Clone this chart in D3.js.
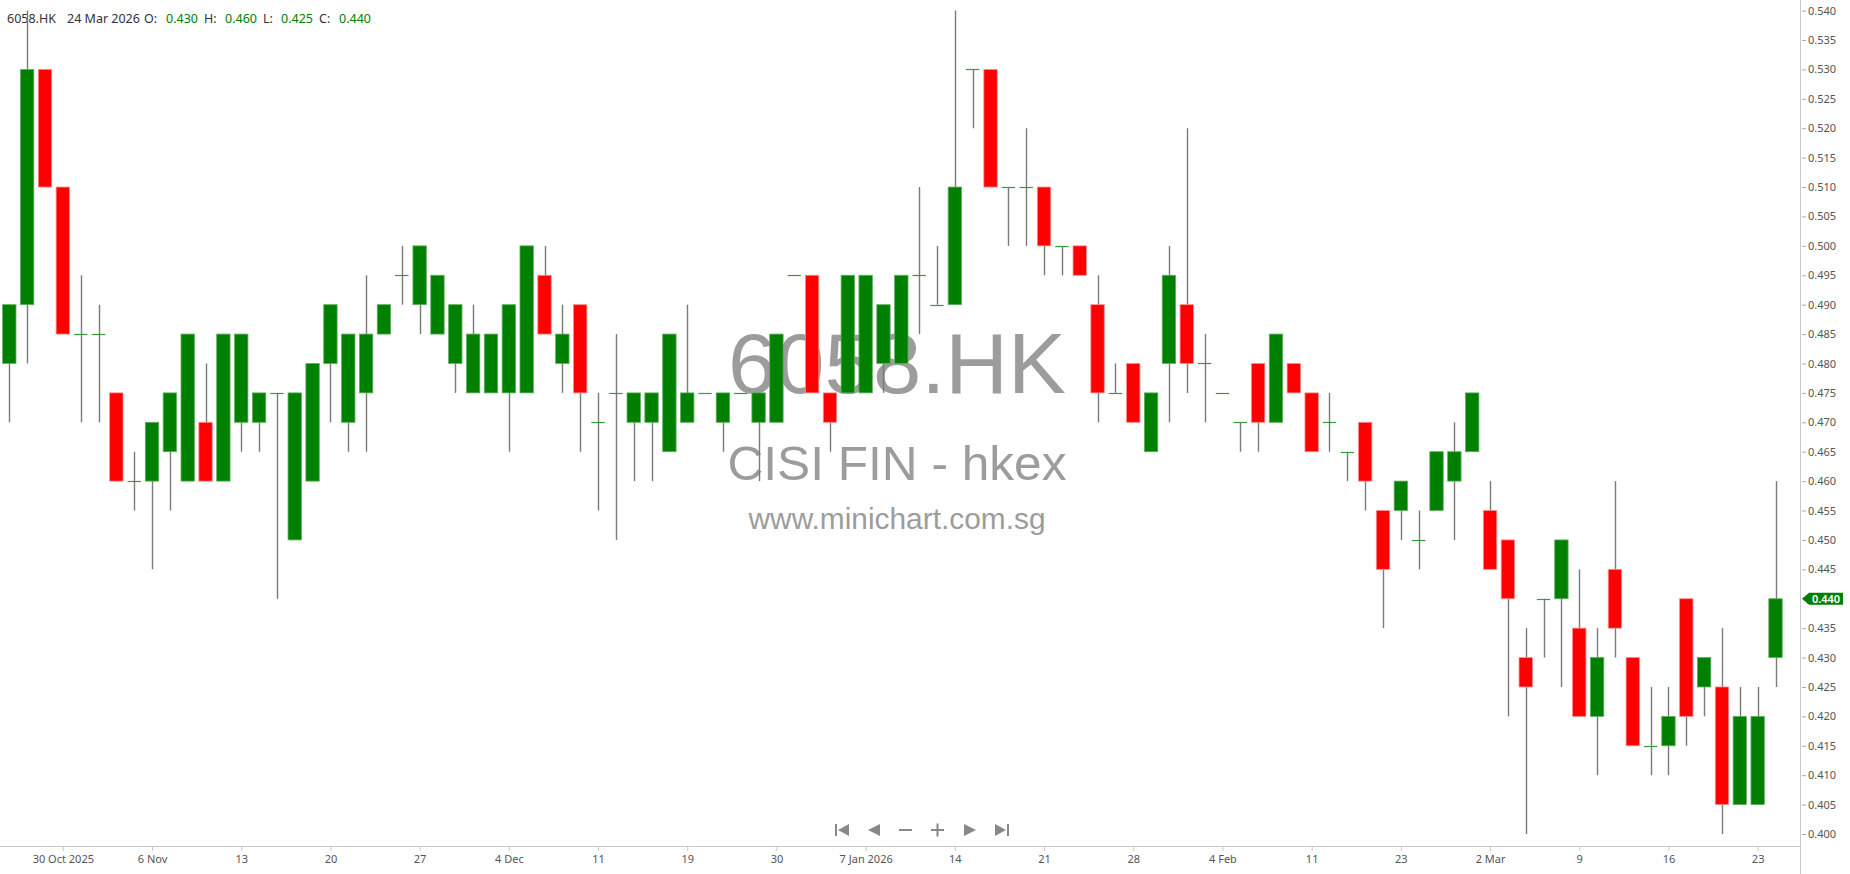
<!DOCTYPE html>
<html><head><meta charset="utf-8">
<script src="https://cdn.jsdelivr.net/npm/d3@7"></script>
<style>html,body{margin:0;padding:0;background:#fff;overflow:hidden}</style>
</head><body>
<svg id="chart" width="1850" height="874"></svg>
<script>
// ---------- DATA ----------
const symbol = "6058.HK";
const dates = [
"2025-10-24","2025-10-27","2025-10-28","2025-10-30","2025-10-31","2025-11-03","2025-11-04","2025-11-05","2025-11-06","2025-11-07",
"2025-11-10","2025-11-11","2025-11-12","2025-11-13","2025-11-14","2025-11-17","2025-11-18","2025-11-19","2025-11-20","2025-11-21",
"2025-11-24","2025-11-25","2025-11-26","2025-11-27","2025-11-28","2025-12-01","2025-12-02","2025-12-03","2025-12-04","2025-12-05",
"2025-12-08","2025-12-09","2025-12-10","2025-12-11","2025-12-12","2025-12-15","2025-12-16","2025-12-17","2025-12-19","2025-12-22",
"2025-12-23","2025-12-24","2025-12-29","2025-12-30","2025-12-31","2026-01-02","2026-01-05","2026-01-06","2026-01-07","2026-01-08",
"2026-01-09","2026-01-12","2026-01-13","2026-01-14","2026-01-15","2026-01-16","2026-01-19","2026-01-20","2026-01-21","2026-01-22",
"2026-01-23","2026-01-26","2026-01-27","2026-01-28","2026-01-29","2026-01-30","2026-02-02","2026-02-03","2026-02-04","2026-02-05",
"2026-02-06","2026-02-09","2026-02-10","2026-02-11","2026-02-12","2026-02-13","2026-02-16","2026-02-20","2026-02-23","2026-02-24",
"2026-02-25","2026-02-26","2026-02-27","2026-03-02","2026-03-03","2026-03-04","2026-03-05","2026-03-06","2026-03-09","2026-03-10",
"2026-03-11","2026-03-12","2026-03-13","2026-03-16","2026-03-17","2026-03-18","2026-03-19","2026-03-20","2026-03-23","2026-03-24"];

const open = [
.480,.490,.530,.510,.485,.485,.475,.460,.460,.465,
.460,.470,.460,.470,.470,.475,.450,.460,.480,.470,
.475,.485,.495,.490,.485,.480,.475,.475,.475,.475,
.495,.480,.490,.470,.475,.470,.470,.465,.470,.475,
.470,.475,.470,.470,.495,.495,.475,.475,.475,.480,
.480,.495,.490,.490,.530,.530,.510,.510,.510,.500,
.500,.490,.475,.480,.465,.480,.490,.480,.475,.470,
.480,.470,.480,.475,.470,.465,.470,.455,.455,.450,
.455,.460,.465,.455,.450,.430,.440,.440,.435,.420,
.445,.430,.415,.415,.440,.425,.425,.405,.405,.430];
const high = [
.490,.540,.530,.510,.495,.490,.475,.465,.470,.475,
.485,.480,.485,.485,.475,.475,.475,.480,.490,.485,
.495,.490,.500,.500,.495,.490,.490,.485,.490,.500,
.500,.490,.490,.475,.485,.475,.475,.485,.490,.475,
.475,.475,.475,.485,.495,.495,.475,.495,.495,.490,
.495,.510,.500,.540,.530,.530,.510,.520,.510,.500,
.500,.495,.480,.480,.475,.500,.520,.485,.475,.470,
.480,.485,.480,.475,.475,.465,.470,.455,.460,.455,
.465,.470,.475,.460,.450,.435,.440,.450,.445,.435,
.460,.430,.425,.425,.440,.430,.435,.425,.425,.460];
const low = [
.470,.480,.510,.485,.470,.470,.460,.455,.445,.455,
.460,.460,.460,.465,.465,.440,.450,.460,.470,.465,
.465,.485,.490,.485,.485,.475,.475,.475,.465,.475,
.485,.475,.465,.455,.450,.460,.460,.465,.470,.475,
.465,.475,.460,.470,.495,.475,.465,.475,.475,.475,
.480,.485,.490,.490,.520,.510,.500,.500,.495,.495,
.495,.470,.475,.470,.465,.470,.475,.470,.475,.465,
.465,.470,.475,.465,.465,.460,.455,.435,.450,.445,
.455,.450,.465,.445,.420,.400,.430,.425,.420,.410,
.430,.415,.410,.410,.415,.420,.400,.405,.405,.425];
const close = [
.490,.530,.510,.485,.485,.485,.460,.460,.470,.475,
.485,.460,.485,.485,.475,.475,.475,.480,.490,.485,
.485,.490,.495,.500,.495,.490,.485,.485,.490,.500,
.485,.485,.475,.470,.475,.475,.475,.485,.475,.475,
.475,.475,.475,.485,.495,.475,.470,.495,.495,.490,
.495,.495,.490,.510,.530,.510,.510,.510,.500,.500,
.495,.475,.475,.470,.475,.495,.480,.480,.475,.470,
.470,.485,.475,.465,.470,.465,.460,.445,.460,.450,
.465,.465,.475,.445,.440,.425,.440,.450,.420,.430,
.435,.415,.415,.420,.420,.430,.405,.420,.420,.440];

const tickDates  = ["2025-10-30","2025-11-06","2025-11-13","2025-11-20","2025-11-27","2025-12-04","2025-12-11","2025-12-19","2025-12-30","2026-01-07",
                    "2026-01-14","2026-01-21","2026-01-28","2026-02-04","2026-02-11","2026-02-23","2026-03-02","2026-03-09","2026-03-16","2026-03-23"];
const tickLabels = ["30 Oct 2025","6 Nov","13","20","27","4 Dec","11","19","30","7 Jan 2026",
                    "14","21","28","4 Feb","11","23","2 Mar","9","16","23"];
const yTicks = [0.400,0.405,0.410,0.415,0.420,0.425,0.430,0.435,0.440,0.445,0.450,0.455,0.460,0.465,0.470,
                0.475,0.480,0.485,0.490,0.495,0.500,0.505,0.510,0.515,0.520,0.525,0.530,0.535,0.540];
const watermark = ["6058.HK","CISI FIN - hkex","www.minichart.com.sg"];

// ---------- CHART ----------
const UP = "#008000", DOWN = "#ff0000", WICK = "#7a7a7a", AXIS = "#c8c8c8", TXT = "#555";
const svg = d3.select("#chart");
const plotRight = 1800, plotBottom = 846;

const x = d3.scalePoint().domain(dates).range([9.3, 1775.5]);
const y = d3.scaleLinear().domain([0.400, 0.540]).range([834, 10.6]);
const bodyW = x.step() * 0.75;
const fmt = d3.format(".3f");

const candles = dates.map((d, i) => ({d, o: open[i], h: high[i], l: low[i], c: close[i]}));
const last = candles[candles.length - 1];

// watermark
const wm = svg.append("g").attr("font-family", "'Liberation Sans', Arial, sans-serif").attr("fill", "#9c9c9c").attr("text-anchor", "middle");
wm.append("text").attr("x", 897).attr("y", 393).attr("font-size", 85).attr("textLength", 338).attr("lengthAdjust", "spacingAndGlyphs").text(watermark[0]);
wm.append("text").attr("x", 897).attr("y", 480).attr("font-size", 48).attr("textLength", 339).attr("lengthAdjust", "spacingAndGlyphs").text(watermark[1]);
wm.append("text").attr("x", 897).attr("y", 529).attr("font-size", 30).attr("textLength", 297).attr("lengthAdjust", "spacingAndGlyphs").text(watermark[2]);

// header
const dateFmt = d3.timeFormat("%-d %b %Y");
const hdr = svg.append("g").attr("font-family", "'Noto Sans', 'Open Sans', sans-serif").attr("font-size", 12.5);
const hdrItems = [
  [7, symbol, "#333"], [67, dateFmt(d3.timeParse("%Y-%m-%d")(last.d)), "#333"],
  [144, "O:", "#333"], [166, fmt(last.o), UP],
  [204, "H:", "#333"], [225, fmt(last.h), UP],
  [263, "L:", "#333"], [281, fmt(last.l), UP],
  [319, "C:", "#333"], [339, fmt(last.c), UP]
];
hdr.selectAll("text").data(hdrItems).join("text")
  .attr("x", d => d[0]).attr("y", 23).attr("fill", d => d[2]).text(d => d[1]);

// axes lines
svg.append("line").attr("x1", 0).attr("x2", plotRight).attr("y1", plotBottom + 0.5).attr("y2", plotBottom + 0.5).attr("stroke", AXIS);
svg.append("line").attr("x1", plotRight + 0.5).attr("x2", plotRight + 0.5).attr("y1", 0).attr("y2", 874).attr("stroke", AXIS);

// y axis (the tick at the last close is covered by the price tag)
const yAxis = d3.axisRight(y).tickValues(yTicks.filter(v => Math.abs(v - last.c) > 1e-9)).tickFormat(fmt).tickSize(4).tickPadding(2);
const gy = svg.append("g").attr("transform", `translate(${plotRight + 2},0)`).call(yAxis);
gy.select(".domain").remove();
gy.selectAll(".tick line").attr("stroke", "#aaa");
gy.selectAll(".tick text").attr("fill", TXT).attr("font-size", 11).attr("font-family", "'Noto Sans', 'Open Sans', sans-serif");

// x axis
const xAxis = d3.axisBottom(x).tickValues(tickDates).tickFormat((d, i) => tickLabels[i]).tickSize(5).tickPadding(4);
const gx = svg.append("g").attr("transform", `translate(0,${plotBottom})`).call(xAxis);
gx.select(".domain").remove();
gx.selectAll(".tick line").attr("stroke", AXIS);
gx.selectAll(".tick text").attr("fill", TXT).attr("font-size", 11).attr("font-family", "'Noto Sans', 'Open Sans', sans-serif");

// candles
const g = svg.append("g");
const cx = d => Math.round(x(d.d)) + 0.5;
g.selectAll("line.wick").data(candles).join("line").attr("class", "wick")
  .attr("x1", cx).attr("x2", cx)
  .attr("y1", d => y(d.h)).attr("y2", d => y(d.l))
  .attr("stroke", WICK).attr("stroke-width", 1.4);
g.selectAll("rect.body").data(candles.filter(d => d.o !== d.c)).join("rect").attr("class", "body")
  .attr("x", d => x(d.d) - bodyW / 2)
  .attr("width", bodyW)
  .attr("y", d => y(Math.max(d.o, d.c)))
  .attr("height", d => Math.abs(y(d.o) - y(d.c)))
  .attr("fill", d => d.c > d.o ? UP : DOWN)
  .attr("stroke", d => d.c > d.o ? "#5fae5f" : "#ff8c8c").attr("stroke-width", 0.8);
g.selectAll("line.doji").data(candles.filter(d => d.o === d.c)).join("line").attr("class", "doji")
  .attr("x1", d => x(d.d) - bodyW / 2).attr("x2", d => x(d.d) + bodyW / 2)
  .attr("y1", d => Math.round(y(d.c)) + 0.5).attr("y2", d => Math.round(y(d.c)) + 0.5)
  .attr("stroke", "#3a9a3a").attr("stroke-width", 1.2);

// last price tag
const ty = y(last.c);
svg.append("path")
  .attr("d", `M${plotRight + 2},${ty} L${plotRight + 9},${ty - 6} L${plotRight + 43},${ty - 6} L${plotRight + 43},${ty + 6} L${plotRight + 9},${ty + 6} Z`)
  .attr("fill", last.c >= last.o ? UP : DOWN);
svg.append("text").attr("x", plotRight + 26).attr("y", ty).attr("dy", "0.36em").attr("text-anchor", "middle")
  .attr("fill", "#fff").attr("font-size", 11).attr("font-weight", 600)
  .attr("font-family", "'Noto Sans', 'Open Sans', sans-serif").text(fmt(last.c));

// navigation icons
const nav = svg.append("g").attr("fill", "#888");
const ny = 830;
nav.append("rect").attr("x", 835).attr("y", ny - 6).attr("width", 2).attr("height", 12);
nav.append("path").attr("d", `M849,${ny - 6} L849,${ny + 6} L838,${ny} Z`);
nav.append("path").attr("d", `M880,${ny - 6} L880,${ny + 6} L868,${ny} Z`);
nav.append("rect").attr("x", 899).attr("y", ny - 1).attr("width", 13).attr("height", 2);
nav.append("rect").attr("x", 931).attr("y", ny - 1).attr("width", 13).attr("height", 2);
nav.append("rect").attr("x", 936.5).attr("y", ny - 6.5).attr("width", 2).attr("height", 13);
nav.append("path").attr("d", `M964,${ny - 6} L964,${ny + 6} L976,${ny} Z`);
nav.append("path").attr("d", `M995,${ny - 6} L995,${ny + 6} L1006,${ny} Z`);
nav.append("rect").attr("x", 1007).attr("y", ny - 6).attr("width", 2).attr("height", 12);
</script>
</body></html>
